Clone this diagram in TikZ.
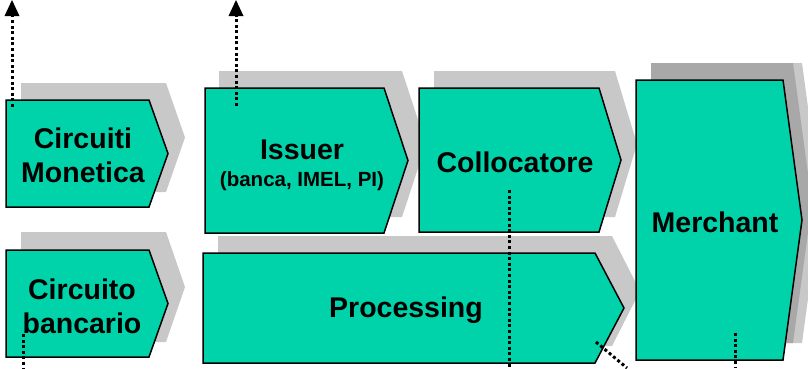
\documentclass[tikz,border=0pt]{standalone}
\usepackage{fontspec}
\setmainfont{Liberation Sans}
\usetikzlibrary{arrows.meta}
\definecolor{boxfill}{RGB}{0,211,170}
\definecolor{shadelight}{RGB}{200,200,200}
\definecolor{shadedark}{RGB}{168,168,168}
\tikzset{
  boxshape/.style={fill=boxfill,draw=black,line width=1.5pt,line join=miter},
  shadowshape/.style={fill=shadelight,draw=none},
  darkshadow/.style={fill=shadedark,draw=none},
  lbl/.style={font=\bfseries\fontsize{28.5}{34}\selectfont,align=center,inner sep=0pt},
  sublbl/.style={font=\bfseries\fontsize{20.5}{24}\selectfont,align=center,inner sep=0pt},
  dotline/.style={line width=3pt,dash pattern=on 3pt off 2.6pt},
  uparrow/.style={dotline,-{Triangle[width=15pt,length=16pt,line width=0pt]}}
}
% chevron: x1, ytop, xcorner, xtip, ybottom
\newcommand{\chevpath}[5]{(#1,#2)--(#3,#2)--(#4,{(#2+#5)/2})--(#3,#5)--(#1,#5)--cycle}
\begin{document}
\begin{tikzpicture}[x=1pt,y=-1pt]
\useasboundingbox (0,0) rectangle (808,368);
% shadows
\fill[shadowshape] \chevpath{21}{83}{166}{185}{192};
\fill[shadowshape] \chevpath{21}{232}{166}{185}{342};
\fill[shadowshape] \chevpath{219}{71}{402}{426}{217};
\fill[shadowshape] \chevpath{434}{71}{615}{637}{217};
\fill[shadowshape] \chevpath{218}{236}{612}{640}{346};
\fill[shadowshape] \chevpath{651}{63}{802}{821}{343};
\fill[darkshadow] \chevpath{651}{63}{793}{812}{343};
% boxes
\draw[boxshape] \chevpath{6}{100}{149}{168}{207};
\draw[boxshape] \chevpath{6}{250}{149}{168}{357};
\draw[boxshape] \chevpath{205}{88}{384}{408}{233};
\draw[boxshape] \chevpath{419}{88}{599}{621}{232};
\draw[boxshape] \chevpath{203}{253}{595}{624}{363};
\draw[boxshape] \chevpath{636}{80}{783}{802}{360};
% labels
\node[lbl] (monetica) at (83,155) {Circuiti\\Monetica};
\node[lbl] (bancario) at (82,306) {Circuito\\bancario};
\node[lbl] (issuer) at (302,150) {Issuer};
\node[sublbl] (issuersub) at (302,181) {(banca, IMEL, PI)};
\node[lbl] (collocatore) at (515,162) {Collocatore};
\node[lbl] (processing) at (406,310) {Processing};
\node[lbl] (merchant) at (715,222) {Merchant};
% connector end points
\coordinate (a1s) at (12,107);
\coordinate (a1e) at (12,0);
\coordinate (a2s) at (236,106);
\coordinate (a2e) at (236,0);
\coordinate (d1s) at (23,334);
\coordinate (d1e) at (23,368);
\coordinate (d2s) at (509,190);
\coordinate (d2e) at (509,368);
\coordinate (d3s) at (596,342);
\coordinate (d3e) at (627,368);
\coordinate (d4s) at (735,333);
\coordinate (d4e) at (735,368);
% connectors
\draw[uparrow] (a1s) -- (a1e);
\draw[uparrow] (a2s) -- (a2e);
\draw[dotline] (d1s) -- (d1e);
\draw[dotline] (d2s) -- (d2e);
\draw[dotline] (d3s) -- (d3e);
\draw[dotline] (d4s) -- (d4e);
\end{tikzpicture}
\end{document}
